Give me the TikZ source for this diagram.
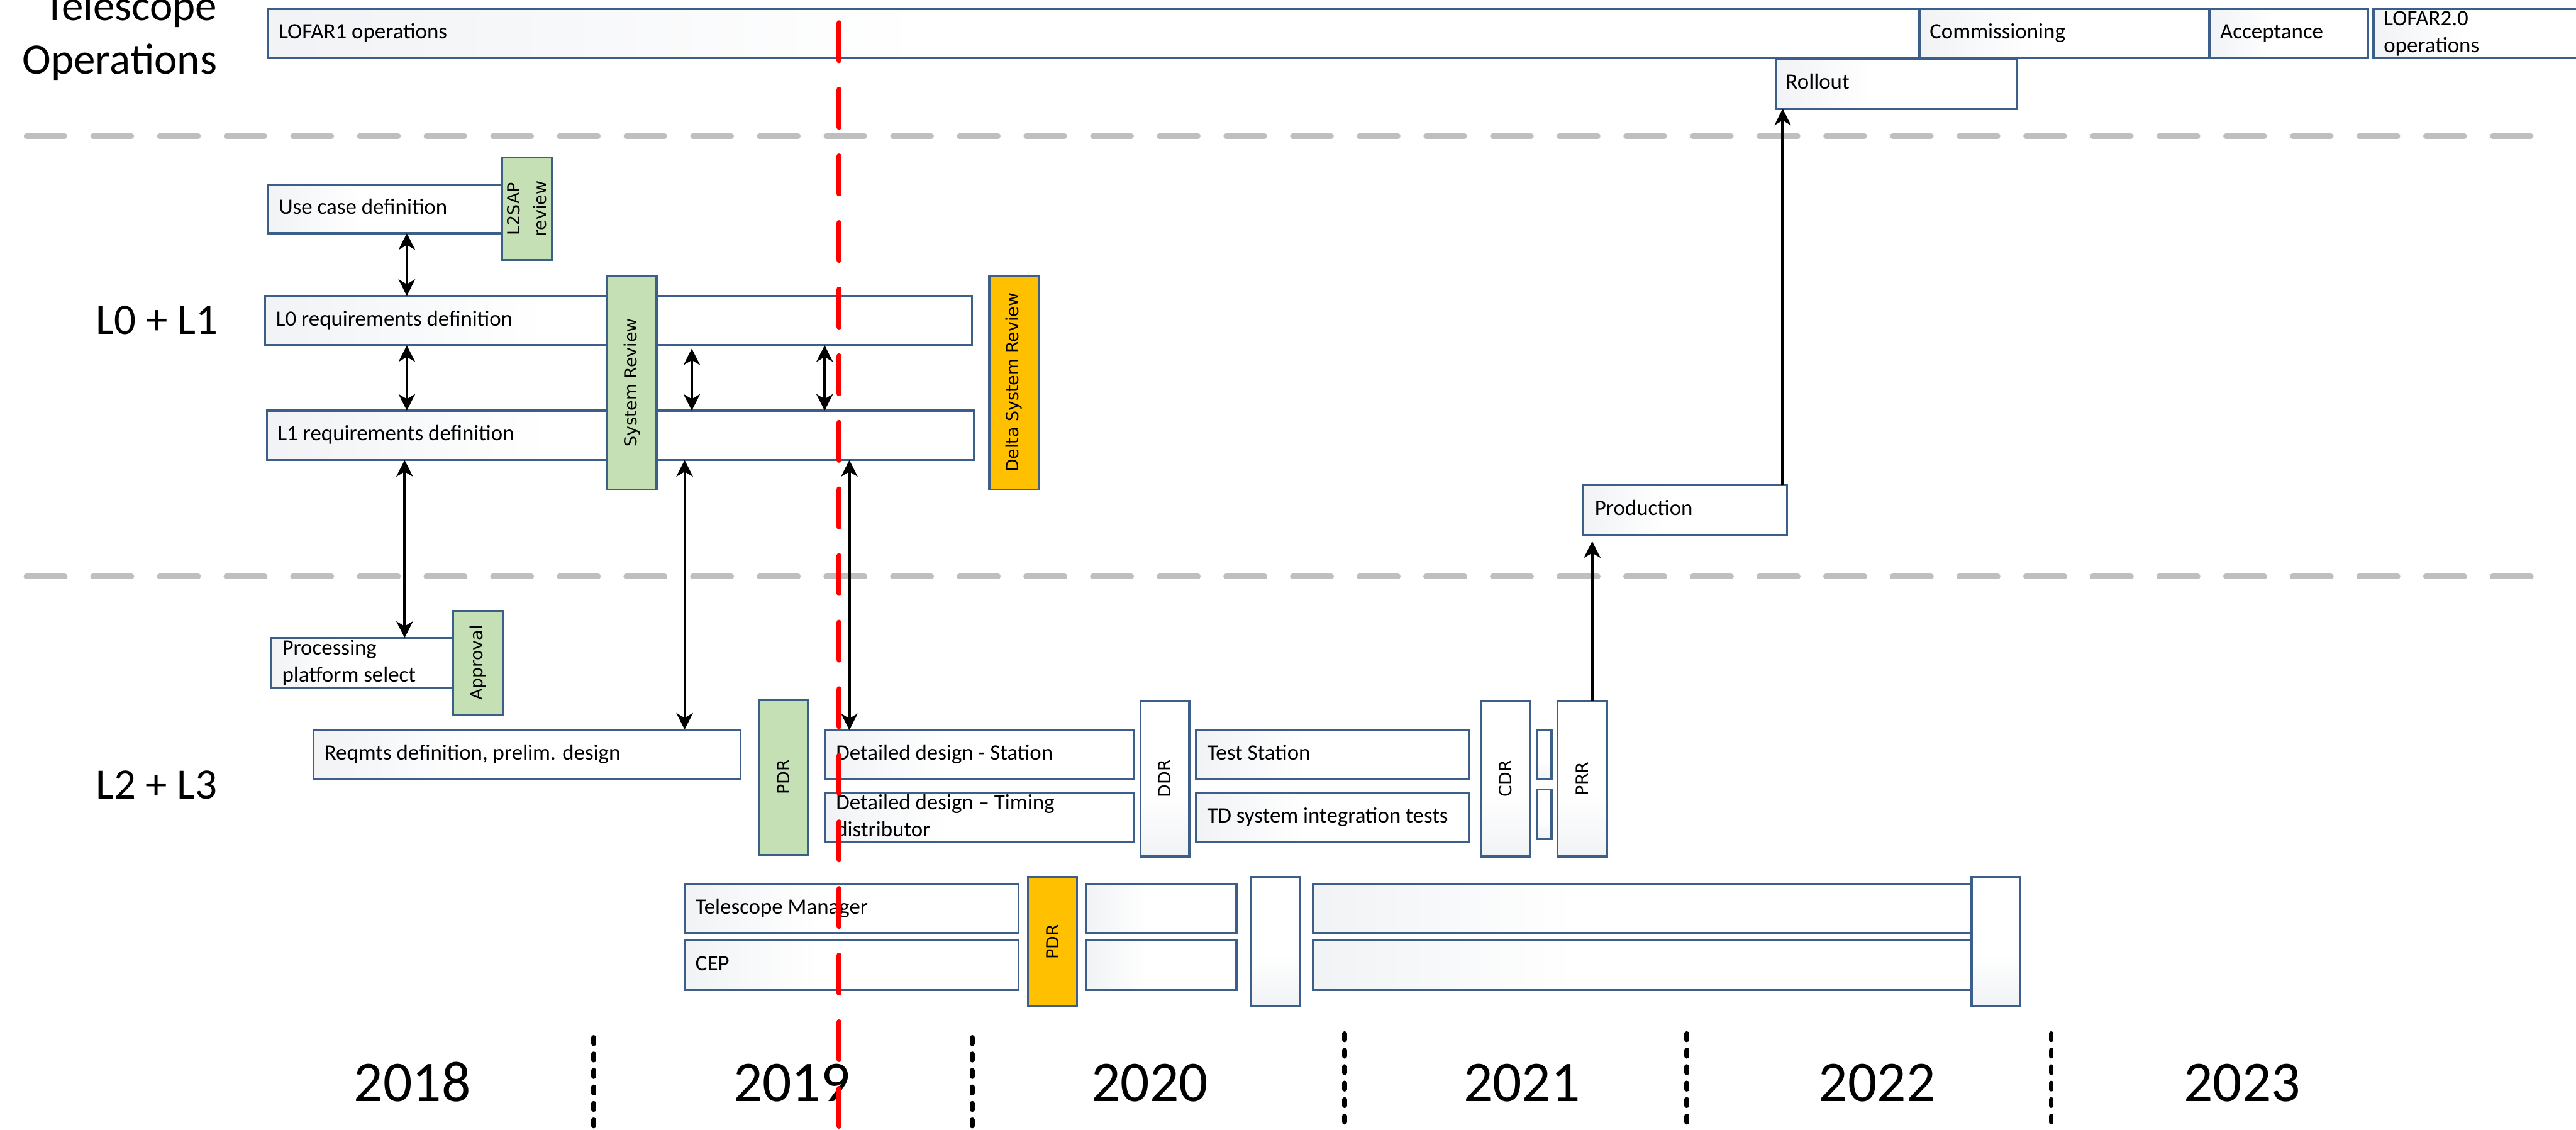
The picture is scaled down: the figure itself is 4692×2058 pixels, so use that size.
\documentclass[tikz,border=0pt]{standalone}
\usepackage{fontspec}
\setmainfont{Carlito}
\setsansfont{DejaVu Sans}
\usetikzlibrary{arrows.meta}

\definecolor{boxblue}{HTML}{3B5F88}
\definecolor{boxgray}{HTML}{DFE3E9}
\definecolor{revgreen}{HTML}{C5E0B4}
\definecolor{revorange}{HTML}{FFC000}
\definecolor{lanegray}{HTML}{BFBFBF}
\definecolor{nowred}{HTML}{FF0000}

% soft grey-to-white fill of the activity bars
\pgfdeclarehorizontalshading{laneshade}{100bp}{color(0bp)=(boxgray); color(45bp)=(white); color(100bp)=(white)}

\newcommand\lblfont{\fontsize{10}{12.25}\selectfont}
\newcommand\rotfont{\sffamily\fontsize{7.7}{12}\selectfont}
\newcommand\headfont{\fontsize{19.75}{24}\selectfont}
\newcommand\yearfont{\fontsize{26.2}{31}\selectfont}

% a bar given by its corners in pixel units: name, style, x1, y1, x2, y2
\newcommand\planbox[6]{%
  \pgfmathsetmacro\boxw{(#5-#3)*0.25}%
  \pgfmathsetmacro\boxh{(#6-#4)*0.25}%
  \node[#2, minimum width=\boxw pt, minimum height=\boxh pt] (#1) at (#3,#4) {};}

\begin{document}
\begin{tikzpicture}[x=0.25pt, y=-0.25pt,
  >={Stealth[length=7.5pt,width=7.5pt,inset=2.2pt]},
  lanebox/.style={draw=boxblue, line width=0.95pt, shade, shading=laneshade,
    anchor=north west, inner sep=0pt, outer sep=0pt},
  tallbox/.style={lanebox, shading angle=90},
  greenbox/.style={draw=boxblue, line width=0.95pt, fill=revgreen,
    anchor=north west, inner sep=0pt, outer sep=0pt},
  orangebox/.style={greenbox, fill=revorange},
  lbl/.style={anchor=west, inner sep=0pt, font=\lblfont, align=left},
  rotlbl/.style={rotate=90, inner sep=0pt, font=\rotfont, align=center},
  lanehead/.style={inner sep=0pt, font=\headfont},
  yearlbl/.style={inner sep=0pt, font=\yearfont, anchor=base},
  link/.style={line width=1.2pt, <->},
  uplink/.style={line width=1.2pt, ->},
  laneline/.style={draw=lanegray, line width=2.5pt, line cap=round,
    dash pattern=on 17.5pt off 12.85pt},
  nowline/.style={draw=nowred, line width=2.5pt, line cap=round,
    dash pattern=on 17pt off 13.33pt},
  yearsep/.style={draw=black, line width=2.25pt, line cap=round,
    dash pattern=on 2.75pt off 4.75pt}]

\useasboundingbox (0,0) rectangle (4692,2058);
\clip (0,0) rectangle (4692,2058);

% ---- lane separators
\coordinate (laneAw) at (48,248);
\coordinate (laneAe) at (4615,248);
\coordinate (laneBw) at (48,1050);
\coordinate (laneBe) at (4615,1050);
\draw[laneline] (laneAw) -- (laneAe);
\draw[laneline] (laneBw) -- (laneBe);

% ---- telescope operations
\planbox{lofar1}{lanebox}{488}{16}{3496}{106}
\planbox{comm}{lanebox}{3496}{16}{4024}{106}
\planbox{accept}{lanebox}{4024}{16}{4313}{106}
\planbox{lofar2}{lanebox}{4323}{16}{4740}{106}
\planbox{roll}{lanebox}{3234}{107}{3674}{198}

% ---- L0 + L1
\planbox{uc}{lanebox}{488}{336}{915}{425}
\planbox{l0}{lanebox}{483}{539}{1770}{629}
\planbox{l1}{lanebox}{486}{748}{1774}{838}
\planbox{prod}{lanebox}{2884}{884}{3255}{974}
\planbox{l2sap}{greenbox}{915}{287}{1005}{474}
\planbox{sysrev}{greenbox}{1106}{502}{1196}{892}
\planbox{dsr}{orangebox}{1802}{502}{1892}{892}

% ---- L2 + L3
\planbox{proc}{lanebox}{494}{1162}{825}{1253}
\planbox{appr}{greenbox}{825}{1113}{916}{1302}
\planbox{req}{lanebox}{571}{1329}{1349}{1420}
\planbox{pdra}{greenbox}{1382}{1274}{1471}{1557}
\planbox{dets}{lanebox}{1503}{1330}{2066}{1419}
\planbox{dett}{lanebox}{1503}{1445}{2066}{1534}
\planbox{ddr}{tallbox}{2077}{1277}{2166}{1560}
\planbox{tst}{lanebox}{2178}{1330}{2676}{1419}
\planbox{tdi}{lanebox}{2178}{1445}{2676}{1534}
\planbox{cdr}{tallbox}{2697}{1277}{2787}{1560}
\planbox{gapa}{tallbox}{2799}{1330}{2826}{1420}
\planbox{gapb}{tallbox}{2799}{1438}{2826}{1528}
\planbox{prr}{tallbox}{2837}{1277}{2927}{1560}
\planbox{tm}{lanebox}{1248}{1610}{1855}{1700}
\planbox{cep}{lanebox}{1248}{1713}{1855}{1803}
\planbox{pdrb}{orangebox}{1872}{1598}{1962}{1833}
\planbox{tma}{lanebox}{1979}{1610}{2252}{1700}
\planbox{cepa}{lanebox}{1979}{1713}{2252}{1803}
\planbox{midr}{tallbox}{2278}{1598}{2367}{1833}
\planbox{tmb}{lanebox}{2391}{1610}{3591}{1700}
\planbox{cepb}{lanebox}{2391}{1713}{3591}{1803}
\planbox{endr}{tallbox}{3591}{1597}{3680}{1833}

% ---- bar texts
\node[lbl] (lofar1-t) at ([xshift=4.75pt]lofar1.west) {\strut LOFAR1 operations\strut};
\node[lbl] (comm-t) at ([xshift=4.5pt]comm.west) {\strut Commissioning\strut};
\node[lbl] (accept-t) at ([xshift=4.75pt]accept.west) {\strut Acceptance\strut};
\node[lbl] (lofar2-t) at ([xshift=4.5pt]lofar2.west) {\strut LOFAR2.0\\operations\strut};
\node[lbl] (roll-t) at ([xshift=4.5pt]roll.west) {\strut Rollout\strut};
\node[lbl] (uc-t) at ([xshift=4.75pt]uc.west) {\strut Use case definition\strut};
\node[lbl] (l0-t) at ([xshift=4.75pt]l0.west) {\strut L0 requirements definition\strut};
\node[lbl] (l1-t) at ([xshift=4.75pt]l1.west) {\strut L1 requirements definition\strut};
\node[lbl] (prod-t) at ([xshift=5pt]prod.west) {\strut Production\strut};
\node[lbl] (proc-t) at ([xshift=4.75pt]proc.west) {\strut Processing\\platform select\strut};
\node[lbl] (req-t) at ([xshift=4.75pt]req.west) {\strut Reqmts definition, prelim. design\strut};
\node[lbl] (dets-t) at ([xshift=4.75pt]dets.west) {\strut Detailed design - Station\strut};
\node[lbl] (dett-t) at ([xshift=4.75pt]dett.west) {\strut Detailed design – Timing\\distributor\strut};
\node[lbl] (tst-t) at ([xshift=5pt]tst.west) {\strut Test Station\strut};
\node[lbl] (tdi-t) at ([xshift=5pt]tdi.west) {\strut TD system integration tests\strut};
\node[lbl] (tm-t) at ([xshift=4.5pt]tm.west) {\strut Telescope Manager\strut};
\node[lbl] (cep-t) at ([xshift=4.5pt]cep.west) {\strut CEP\strut};

% ---- review gates
\node[rotlbl] (l2sap-t) at (l2sap) {L2SAP\\review};
\node[rotlbl] (sysrev-t) at (sysrev) {System Review};
\node[rotlbl] (dsr-t) at (dsr) {Delta System Review};
\node[rotlbl] (appr-t) at (appr) {Approval};
\node[rotlbl] (pdra-t) at (pdra) {PDR};
\node[rotlbl] (ddr-t) at (ddr) {DDR};
\node[rotlbl] (cdr-t) at (cdr) {CDR};
\node[rotlbl] (prr-t) at (prr) {PRR};
\node[rotlbl] (pdrb-t) at (pdrb) {PDR};

% ---- dependencies
\coordinate (xUse) at (741,0);
\coordinate (xSr) at (1260,0);
\coordinate (xDsr) at (1502,0);
\coordinate (xProc) at (737,0);
\coordinate (xReq) at (1247,0);
\coordinate (xDet) at (1547,0);
\coordinate (xPrr) at (2900,0);
\coordinate (xRoll) at (3247,0);
\draw[link] (uc.south -| xUse) -- (l0.north -| xUse);
\draw[link] (l0.south -| xUse) -- (l1.north -| xUse);
\draw[link, shorten <=1.5pt] (l0.south -| xSr) -- (l1.north -| xSr);
\draw[link] (l0.south -| xDsr) -- (l1.north -| xDsr);
\draw[link] (l1.south -| xProc) -- (proc.north -| xProc);
\draw[link] (l1.south -| xReq) -- (req.north -| xReq);
\draw[link] (l1.south -| xDet) -- (dets.north -| xDet);
\draw[uplink, shorten >=3pt] (prr.north -| xPrr) -- (prod.south -| xPrr);
\draw[uplink] (prod.north -| xRoll) -- (roll.south -| xRoll);

% ---- lane headings
\node[lanehead, anchor=base east] (telA) at (396,37) {Telescope};
\node[lanehead, anchor=base east] (telB) at (396,135) {Operations};
\node[lanehead, anchor=base] (l01) at (286,609) {L0 + L1};
\node[lanehead, anchor=base] (l23) at (285,1455) {L2 + L3};

% ---- years
\coordinate (sepA) at (1081,1890);
\coordinate (sepAb) at (1081,2080);
\coordinate (sepB) at (1771,1890);
\coordinate (sepBb) at (1771,2080);
\coordinate (sepC) at (2449,1883);
\coordinate (sepCb) at (2449,2080);
\coordinate (sepD) at (3072,1883);
\coordinate (sepDb) at (3072,2080);
\coordinate (sepE) at (3736,1883);
\coordinate (sepEb) at (3736,2080);
\draw[yearsep] (sepA) -- (sepAb);
\draw[yearsep] (sepB) -- (sepBb);
\draw[yearsep] (sepC) -- (sepCb);
\draw[yearsep] (sepD) -- (sepDb);
\draw[yearsep] (sepE) -- (sepEb);
\node[yearlbl] (y18) at (751,2006) {2018};
\node[yearlbl] (y19) at (1442,2006) {2019};
\node[yearlbl] (y20) at (2094,2006) {2020};
\node[yearlbl] (y21) at (2772,2006) {2021};
\node[yearlbl] (y22) at (3419,2006) {2022};
\node[yearlbl] (y23) at (4084,2006) {2023};

% ---- status date
\coordinate (nowTop) at (1528,42);
\coordinate (nowBot) at (1528,2080);
\draw[nowline] (nowTop) -- (nowBot);
\end{tikzpicture}
\end{document}
